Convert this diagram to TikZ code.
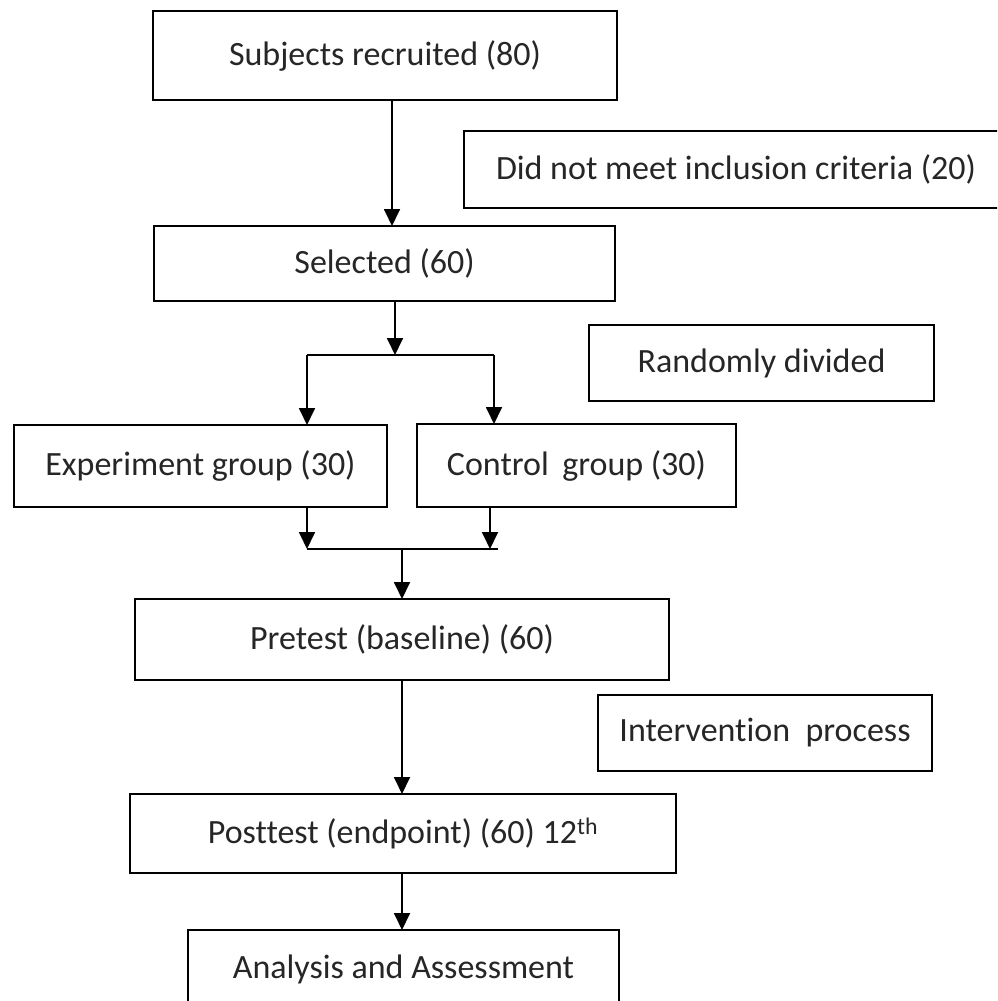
\documentclass[tikz,border=0pt]{standalone}
\usepackage{fontspec}
\setmainfont[Ligatures=NoCommon]{Carlito}
\usetikzlibrary{arrows.meta}
\begin{document}
\begin{tikzpicture}[x=1pt,y=-1pt,
  box/.style={draw=black,line width=1.8pt,rectangle,inner sep=0pt,outer sep=0pt,
    font=\fontsize{34}{40}\selectfont,text=black!85},
  arr/.style={line width=1.8pt,-{Triangle[width=16pt,length=17pt]}},
  ln/.style={line width=1.8pt}]
\useasboundingbox (0,0) rectangle (997,1001);
\clip (0,0) rectangle (997,1001);
\fill[white] (0,0) rectangle (997,1001);
% boxes
\node[box,minimum width=464pt,minimum height=89pt] (rec) at (385,55.5) {Subjects recruited (80)};
\node[box,minimum width=544pt,minimum height=77pt] (dnm) at (736,169.5) {Did not meet inclusion criteria (20)};
\node[box,minimum width=461pt,minimum height=75pt] (sel) at (384.5,263.5) {Selected (60)};
\node[box,minimum width=345pt,minimum height=76pt] (rnd) at (761.5,363) {Randomly divided};
\node[box,minimum width=373pt,minimum height=82pt] (exp) at (200.5,466) {Experiment group (30)};
\node[box,minimum width=319pt,minimum height=83pt] (ctl) at (576.5,465.5) {Control\,\ group (30)};
\node[box,minimum width=534pt,minimum height=81pt] (pre) at (402,639.5) {Pretest (baseline) (60)};
\node[box,minimum width=334pt,minimum height=76pt] (int) at (765,733) {Intervention\ \ process};
\node[box,minimum width=546pt,minimum height=79pt] (post) at (403,833.5) {Posttest (endpoint) (60) 12\textsuperscript{th}};
\node[box,minimum width=431pt,minimum height=78pt] (ana) at (403.5,969) {Analysis and Assessment};
% connector points
\coordinate (a1) at (392,0);
\coordinate (br) at (395,355);
\coordinate (bl) at (307,355);
\coordinate (brr) at (494,355);
\coordinate (jl) at (307,549);
\coordinate (jr) at (490,549);
\coordinate (jc) at (402,549);
\coordinate (jend) at (498,549);
% connectors
\draw[arr] (rec.south -| a1) -- (sel.north -| a1);
\draw[arr] (sel.south -| br) -- (br);
\draw[ln] (bl) -- (brr);
\draw[arr] (bl) -- (exp.north -| bl);
\draw[arr] (brr) -- (ctl.north -| brr);
\draw[arr] (exp.south -| jl) -- (jl);
\draw[arr] (ctl.south -| jr) -- (jr);
\draw[ln] (jl) -- (jend);
\draw[arr] (jc) -- (pre.north -| jc);
\draw[arr] (pre.south -| jc) -- (post.north -| jc);
\draw[arr] (post.south -| jc) -- (ana.north -| jc);
\end{tikzpicture}
\end{document}
